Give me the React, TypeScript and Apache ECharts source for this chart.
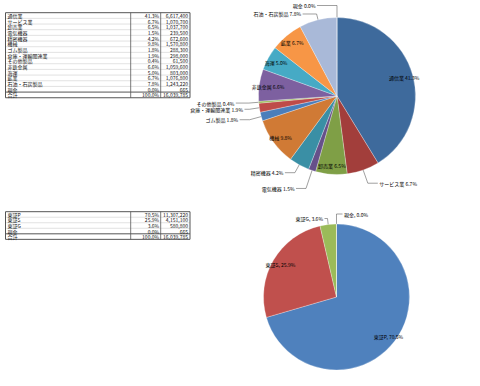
import React, { useEffect, useRef } from 'react';
import * as echarts from 'echarts';

const sectorNames = ['通信業', 'サービス業', '卸売業', '電気機器', '精密機器', '機械', 'ゴム製品', '倉庫・運輸関連業', 'その他製品', '非鉄金属', '海運', '鉱業', '石油・石炭製品', '現金'];
const sectorValues = [6617400, 1070700, 1037700, 239500, 672600, 1570800, 288300, 298000, 61500, 1059600, 803000, 1076800, 1243220, 665];
const sectorColors = ['#3E6A9C', '#A23E3B', '#7F9F46', '#66508A', '#3A8FA5', '#D07A35', '#4A7EBB', '#BE4B48', '#98B954', '#7D60A0', '#46AAC5', '#F79646', '#A9B9D8', '#8AA7CF'];

const marketNames = ['東証P', '東証S', '東証G', '現金'];
const marketValues = [11307220, 4151100, 580800, 665];
const marketColors = ['#4F81BD', '#C0504D', '#9BBB59', '#8064A2'];

const totalLabel = '合計';

// label-line lengths [radial, horizontal] for labels drawn outside the pie
const sectorOutside: Record<string, [number, number]> = {
  'サービス業': [14, 10],
  '電気機器': [19, 10],
  '精密機器': [9, 10],
  'ゴム製品': [12, 10],
  '倉庫・運輸関連業': [10, 5],
  'その他製品': [10, 13],
  '石油・石炭製品': [6, 14],
  '現金': [12, 20],
};
const marketOutside: Record<string, [number, number]> = {
  '東証G': [6, 3],
  '現金': [10, 6],
};

const FONT = '"Noto Sans CJK JP", "Noto Sans", sans-serif';

const sum = (a: number[]) => a.reduce((s, v) => s + v, 0);
const fmtNum = (v: number) => v.toLocaleString('en-US');
const pct = (v: number, t: number) => ((v / t) * 100).toFixed(1);

function tableElements(names: string[], values: number[], top: number, rowH: number) {
  const total = sum(values);
  const rows = names
    .map((n, i) => [n, pct(values[i], total) + '%', fmtNum(values[i])])
    .concat([[totalLabel, '100.0%', fmtNum(total)]]);
  const L = 5.5, C1 = 130.7, C2 = 160.7, R = 190;
  const H = rows.length * rowH;
  const els: any[] = [];
  for (let i = 1; i < rows.length; i++) {
    const last = i === rows.length - 1;
    const y = top + i * rowH;
    els.push({
      type: 'line',
      shape: { x1: L, y1: y, x2: R, y2: y },
      style: { stroke: last ? '#555' : '#cfcfcf', lineWidth: last ? 1 : 0.6 },
    });
  }
  [C1, C2].forEach((x) =>
    els.push({
      type: 'line',
      shape: { x1: x, y1: top, x2: x, y2: top + H },
      style: { stroke: '#555', lineWidth: 0.8 },
    })
  );
  els.push({
    type: 'rect',
    shape: { x: L, y: top, width: R - L, height: H },
    style: { fill: 'none', stroke: '#555', lineWidth: 1 },
  });
  rows.forEach((r, i) => {
    const y = top + (i + 0.5) * rowH;
    const base = { fontSize: 5, fill: '#111', fontFamily: FONT, verticalAlign: 'middle' };
    els.push({ type: 'text', x: L + 2, y, style: { ...base, text: r[0], align: 'left' } });
    els.push({ type: 'text', x: C2 - 1.5, y, style: { ...base, text: r[1], align: 'right' } });
    els.push({ type: 'text', x: R - 2, y, style: { ...base, text: r[2], align: 'right' } });
  });
  return els;
}

function pieSeries(
  names: string[],
  values: number[],
  colors: string[],
  outside: Record<string, [number, number]>,
  center: [number, number],
  radius: number,
  sep: string,
  mirrorName?: string
) {
  const total = sum(values);
  const formatter = (p: any) => `${p.name}${sep}${pct(p.value, total)}%`;
  const labelBase = { fontSize: 5, color: '#000', fontFamily: FONT, formatter, textBorderWidth: 0 };
  const mirrorIdx = mirrorName ? names.indexOf(mirrorName) : -1;
  const main: any = {
    type: 'pie',
    center,
    radius,
    startAngle: 90,
    clockwise: true,
    avoidLabelOverlap: false,
    emphasis: { disabled: true },
    itemStyle: { borderColor: 'rgba(255,255,255,0.7)', borderWidth: 0.4 },
    label: { ...labelBase, position: 'outside', distanceToLabelLine: 1.5 },
    labelLine: { lineStyle: { color: '#404040', width: 0.5 } },
    data: names.map((n, i) => {
      const o = outside[n];
      return {
        name: n,
        value: values[i],
        itemStyle: { color: colors[i] },
        label: { show: !!o },
        labelLine: o ? { show: true, length: o[0], length2: o[1] } : { show: false },
      };
    }),
    labelLayout: (p: any) => {
      if (p.dataIndex !== mirrorIdx || !p.labelLinePoints) return {};
      const pts = p.labelLinePoints;
      const x0 = pts[0][0];
      const m = pts.map((pt: number[]) => [2 * x0 - pt[0], pt[1]]);
      const end = m[m.length - 1];
      return {
        x: end[0] + 1.5,
        y: p.labelRect.y + p.labelRect.height / 2,
        align: 'left',
        verticalAlign: 'middle',
        labelLinePoints: m,
      };
    },
  };
  const overlay: any = {
    type: 'pie',
    center,
    radius: [radius * 0.7, radius],
    startAngle: 90,
    clockwise: true,
    silent: true,
    avoidLabelOverlap: false,
    z: 3,
    itemStyle: { color: 'rgba(0,0,0,0)', borderWidth: 0 },
    label: { ...labelBase, position: 'inside' },
    labelLine: { show: false },
    data: names.map((n, i) => ({
      name: n,
      value: values[i],
      label: { show: !outside[n] },
    })),
  };
  return [main, overlay];
}

export default function App() {
  const ref = useRef<HTMLDivElement>(null);
  useEffect(() => {
    if (!ref.current) return;
    const chart = echarts.init(ref.current, undefined, { renderer: 'svg' });
    chart.setOption({
      animation: false,
      backgroundColor: '#ffffff',
      textStyle: { fontFamily: FONT },
      graphic: {
        elements: [
          ...tableElements(sectorNames, sectorValues, 12.7, 5.67),
          ...tableElements(marketNames, marketValues, 211.7, 5.53),
        ],
      },
      series: [
        ...pieSeries(sectorNames, sectorValues, sectorColors, sectorOutside, [337, 96], 78.5, ' '),
        ...pieSeries(marketNames, marketValues, marketColors, marketOutside, [336.5, 297], 73, ', ', '現金'),
      ],
    });
    return () => chart.dispose();
  }, []);
  return <div ref={ref} style={{ position: 'fixed', left: 0, top: 0, width: 480, height: 386 }} />;
}
